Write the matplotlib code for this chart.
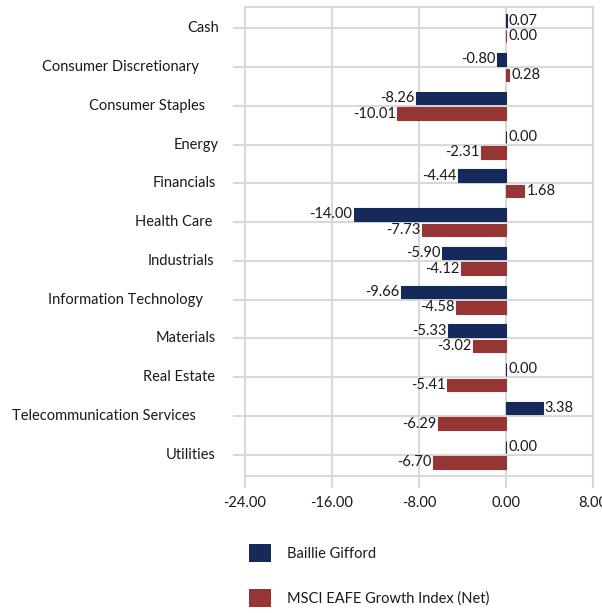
import matplotlib
matplotlib.use("Agg")
import matplotlib.pyplot as plt
import matplotlib.transforms as mtrans
import numpy as np
from matplotlib.patches import Patch

categories = ["Cash", "Consumer Discretionary", "Consumer Staples", "Energy",
              "Financials", "Health Care", "Industrials", "Information Technology",
              "Materials", "Real Estate", "Telecommunication Services", "Utilities"]
baillie = [0.07, -0.80, -8.26, 0.00, -4.44, -14.00, -5.90, -9.66, -5.33, 0.00, 3.38, 0.00]
msci = [0.00, 0.28, -10.01, -2.31, 1.68, -7.73, -4.12, -4.58, -3.02, -5.41, -6.29, -6.70]
series_names = ["Baillie Gifford", "MSCI EAFE Growth Index (Net)"]
xticks = [-24, -16, -8, 0, 8]

# label right-edge gaps from the axis, in pixels (layout only)
label_gap_px = [26, 46, 40, 26, 29, 33, 31, 42, 29, 30, 49, 29]

blue = "#15295A"
red = "#963634"
grid = "#D9D9D9"
fs = 10.5

plt.rcParams['font.family'] = ['Lato', 'DejaVu Sans']

fig = plt.figure(figsize=(6.02, 6.13), dpi=100)
ax = fig.add_axes([245/602, 1-476/613, (593-245)/602, (476-7)/613])

y = np.arange(len(categories))
h = 0.32
off = 0.2
b1 = ax.barh(y - off, baillie, height=h, color=blue, edgecolor=blue, linewidth=0.8, zorder=3)
b2 = ax.barh(y + off, msci, height=h, color=red, edgecolor=red, linewidth=0.8, zorder=3)

for bars, vals in ((b1, baillie), (b2, msci)):
    for rect, v in zip(bars, vals):
        yc = rect.get_y() + rect.get_height()/2
        if v < 0:
            ax.annotate(f"{v:.2f}", (v, yc), xytext=(-1, 0), textcoords="offset points",
                        ha="right", va="center", fontsize=fs, color="#1a1a1a", zorder=4)
        else:
            ax.annotate(f"{v:.2f}", (v, yc), xytext=(1.5, 0), textcoords="offset points",
                        ha="left", va="center", fontsize=fs, color="#1a1a1a", zorder=4)

ax.set_xlim(-24, 8)
ax.set_ylim(len(categories) - 0.45, -0.55)
ax.set_xticks(xticks)
ax.set_xticklabels([f"{t:.2f}" for t in xticks], fontsize=fs)
ax.set_yticks(y)
ax.set_yticklabels([])

base = mtrans.blended_transform_factory(ax.transAxes, ax.transData)
for yi, cat, gap in zip(y, categories, label_gap_px):
    tr = base + mtrans.ScaledTranslation(-gap/100, 0, fig.dpi_scale_trans)
    ax.text(0, yi, cat, transform=tr, ha="right", va="center", fontsize=fs,
            color="#1a1a1a", clip_on=False)

ax.grid(True, axis="both", color=grid, linewidth=1.5, zorder=0)
for s in ax.spines.values():
    s.set_color(grid)
    s.set_linewidth(1.5)
ax.tick_params(axis="x", length=8.6, width=1.5, color=grid, pad=6, labelcolor="#1a1a1a")
ax.tick_params(axis="y", length=8.6, width=1.5, color=grid, pad=10)

handles = [Patch(facecolor=blue), Patch(facecolor=red)]
fig.legend(handles, series_names, loc="upper left", bbox_to_anchor=(249/602, 1-544/613),
           frameon=False, fontsize=fs, handlelength=1.5, handleheight=1.5,
           labelspacing=1.85, handletextpad=1.1, borderpad=0, borderaxespad=0)
for t in fig.legends[0].get_texts():
    t.set_color("#1a1a1a")

fig.savefig("out.png", dpi=100)
